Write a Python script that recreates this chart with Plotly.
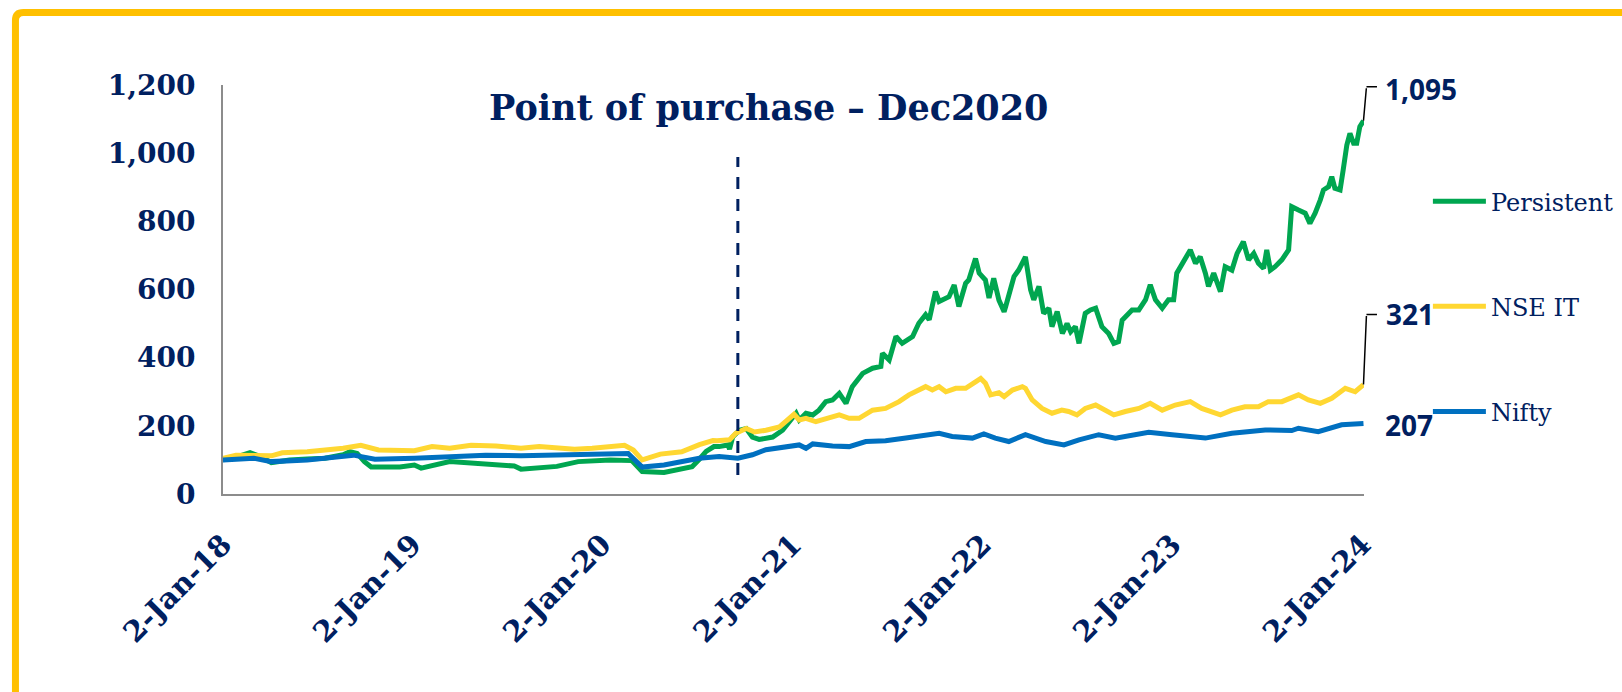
import plotly.graph_objects as go

# ---------------- data ----------------
persistent_dates = [
    "2018-01-02", "2018-01-27", "2018-02-23", "2018-03-15", "2018-04-05", "2018-05-10", "2018-06-13",
    "2018-07-17", "2018-08-21", "2018-09-03", "2018-09-17", "2018-10-01", "2018-10-14", "2018-12-08",
    "2019-01-05", "2019-01-18", "2019-03-14", "2019-04-24", "2019-05-22", "2019-07-16", "2019-07-29",
    "2019-09-02", "2019-10-06", "2019-11-16", "2020-01-17", "2020-02-27", "2020-03-18", "2020-04-29",
    "2020-06-22", "2020-07-06", "2020-07-19", "2020-08-03", "2020-08-13", "2020-08-30", "2020-09-02",
    "2020-09-08", "2020-09-21", "2020-10-04", "2020-10-16", "2020-10-29", "2020-11-24", "2020-12-13",
    "2020-12-26", "2021-01-08", "2021-01-14", "2021-01-27", "2021-02-09", "2021-02-21", "2021-03-06",
    "2021-03-19", "2021-04-01", "2021-04-14", "2021-04-26", "2021-05-16", "2021-06-04", "2021-06-20",
    "2021-06-23", "2021-07-06", "2021-07-19", "2021-07-31", "2021-08-20", "2021-09-01", "2021-09-14",
    "2021-09-21", "2021-10-03", "2021-10-10", "2021-10-29", "2021-11-08", "2021-11-17", "2021-11-30",
    "2021-12-06", "2021-12-19", "2021-12-26", "2022-01-07", "2022-01-14", "2022-01-23", "2022-02-02",
    "2022-02-12", "2022-02-15", "2022-03-03", "2022-03-12", "2022-03-25", "2022-04-04", "2022-04-10",
    "2022-04-20", "2022-04-29", "2022-05-09", "2022-05-15", "2022-05-25", "2022-06-04", "2022-06-13",
    "2022-06-20", "2022-06-29", "2022-07-06", "2022-07-18", "2022-07-28", "2022-08-07", "2022-08-19",
    "2022-09-01", "2022-09-11", "2022-09-20", "2022-09-27", "2022-10-16", "2022-10-29", "2022-11-11",
    "2022-11-20", "2022-11-30", "2022-12-13", "2022-12-25", "2023-01-04", "2023-01-10", "2023-01-23",
    "2023-02-05", "2023-02-15", "2023-02-24", "2023-03-06", "2023-03-12", "2023-03-22", "2023-04-04",
    "2023-04-13", "2023-04-26", "2023-05-06", "2023-05-18", "2023-05-28", "2023-06-07", "2023-06-16",
    "2023-06-26", "2023-07-02", "2023-07-09", "2023-07-18", "2023-07-31", "2023-08-13", "2023-08-19",
    "2023-09-01", "2023-09-14", "2023-09-23", "2023-10-03", "2023-10-13", "2023-10-19", "2023-10-29",
    "2023-11-04", "2023-11-10", "2023-11-20", "2023-11-26", "2023-12-03", "2023-12-09", "2023-12-16",
    "2023-12-22", "2023-12-28", "2024-01-04",
]
persistent_values = [
    100, 108, 121, 110, 92, 100, 103,
    105, 115, 124, 119, 95, 79, 79,
    85, 76, 95, 90, 90, 82, 73,
    78, 81, 95, 100, 98, 66, 63,
    80, 102, 125, 139, 139, 144, 132,
    167, 187, 192, 167, 160, 167, 187,
    212, 237, 217, 237, 232, 246, 271,
    276, 295, 266, 315, 354, 369, 374,
    413, 393, 462, 442, 462, 501, 526,
    511, 594, 565, 579, 613, 550, 618,
    628, 691, 648, 628, 575, 633, 569,
    535, 550, 638, 657, 696, 599, 570,
    609, 530, 545, 491, 535, 471, 500,
    476, 491, 442, 530, 540, 545, 491,
    471, 442, 447, 510, 540, 540, 570,
    614, 570, 545, 570, 570, 648, 682,
    716, 677, 696, 648, 609, 648, 594,
    667, 657, 706, 740, 687, 706, 677,
    662, 716, 657, 667, 687, 716, 843,
    833, 824, 794, 824, 863, 892, 902,
    931, 897, 892, 951, 1024, 1058, 1029,
    1029, 1078, 1095,
]

nseit_dates = [
    "2018-01-02", "2018-01-27", "2018-04-05", "2018-04-26", "2018-06-13", "2018-08-21", "2018-09-24",
    "2018-10-28", "2019-01-05", "2019-02-08", "2019-03-14", "2019-04-24", "2019-06-11", "2019-07-29",
    "2019-09-02", "2019-11-09", "2019-12-13", "2020-01-17", "2020-02-13", "2020-03-01", "2020-03-18",
    "2020-04-22", "2020-06-02", "2020-07-06", "2020-08-01", "2020-08-09", "2020-09-02", "2020-09-14",
    "2020-10-04", "2020-10-20", "2020-11-11", "2020-12-07", "2020-12-19", "2021-01-04", "2021-01-14",
    "2021-01-27", "2021-02-15", "2021-03-06", "2021-04-01", "2021-04-20", "2021-05-09", "2021-06-04",
    "2021-06-29", "2021-07-25", "2021-08-13", "2021-09-14", "2021-09-27", "2021-10-10", "2021-10-23",
    "2021-11-11", "2021-11-30", "2021-12-19", "2021-12-29", "2022-01-07", "2022-01-17", "2022-02-02",
    "2022-02-12", "2022-02-28", "2022-03-19", "2022-03-25", "2022-04-07", "2022-04-26", "2022-05-15",
    "2022-06-03", "2022-06-16", "2022-07-02", "2022-07-18", "2022-08-07", "2022-08-26", "2022-09-11",
    "2022-10-03", "2022-10-29", "2022-11-20", "2022-12-13", "2023-01-07", "2023-02-05", "2023-02-27",
    "2023-03-18", "2023-04-04", "2023-04-26", "2023-05-21", "2023-06-16", "2023-07-05", "2023-07-31",
    "2023-09-01", "2023-09-20", "2023-10-13", "2023-11-04", "2023-11-30", "2023-12-19", "2024-01-04",
]
nseit_values = [
    105, 114, 112, 121, 124, 134, 143,
    129, 127, 139, 134, 143, 141, 134,
    139, 131, 134, 141, 143, 129, 100,
    117, 124, 145, 157, 156, 159, 178,
    192, 182, 187, 197, 212, 234, 217,
    222, 212, 222, 232, 222, 222, 246,
    251, 271, 291, 315, 305, 315, 300,
    310, 310, 329, 339, 325, 291, 297,
    286, 305, 315, 310, 276, 251, 237,
    246, 242, 232, 251, 261, 246, 232,
    242, 251, 266, 246, 261, 271, 251,
    242, 232, 246, 256, 256, 271, 271,
    291, 276, 266, 281, 310, 300, 321,
]

nifty_dates = [
    "2018-01-02", "2018-03-02", "2018-04-05", "2018-06-13", "2018-09-10", "2018-10-21", "2019-01-05",
    "2019-03-14", "2019-05-22", "2019-07-29", "2019-10-06", "2019-12-13", "2020-02-20", "2020-03-18",
    "2020-04-29", "2020-07-06", "2020-08-13", "2020-09-18", "2020-10-16", "2020-11-11", "2020-12-19",
    "2021-01-14", "2021-01-27", "2021-02-09", "2021-03-19", "2021-04-20", "2021-05-22", "2021-06-29",
    "2021-08-07", "2021-09-14", "2021-10-10", "2021-11-04", "2021-12-13", "2022-01-04", "2022-01-26",
    "2022-02-21", "2022-03-25", "2022-05-03", "2022-06-07", "2022-07-06", "2022-08-13", "2022-09-14",
    "2022-11-17", "2023-01-01", "2023-03-06", "2023-04-26", "2023-06-29", "2023-08-19", "2023-09-01",
    "2023-10-09", "2023-11-23", "2024-01-04",
]
nifty_values = [
    100, 105, 95, 100, 114, 102, 105,
    108, 114, 112, 114, 119, 119, 79,
    85, 105, 110, 105, 115, 130, 139,
    144, 134, 147, 141, 139, 154, 156,
    164, 171, 178, 169, 164, 176, 164,
    154, 174, 154, 144, 159, 174, 164,
    181, 174, 164, 178, 188, 186, 193,
    183, 203, 207,
]

series_names = ["Persistent", "NSE IT", "Nifty"]
series_colors = ["#00A650", "#FFD732", "#0070C0"]

tick_dates = ["2018-01-02", "2019-01-02", "2020-01-02", "2021-01-02", "2022-01-02", "2023-01-02", "2024-01-02"]
tick_labels = ["2-Jan-18", "2-Jan-19", "2-Jan-20", "2-Jan-21", "2-Jan-22", "2-Jan-23", "2-Jan-24"]
y_ticks = [0, 200, 400, 600, 800, 1000, 1200]

purchase_date = "2020-09-18"
purchase_span = [56, 989]
title_text = "Point of purchase \u2013 Dec2020"

NAVY = "#002060"
SERIF = "Georgia, 'DejaVu Serif', serif"
SANS = "'Open Sans', 'Liberation Sans', sans-serif"

# ---------------- figure ----------------
fig = go.Figure()
all_x = [persistent_dates, nseit_dates, nifty_dates]
all_y = [persistent_values, nseit_values, nifty_values]
for nm, col, xs, ys in zip(series_names, series_colors, all_x, all_y):
    fig.add_trace(go.Scatter(
        x=xs, y=ys, mode="lines", name=nm, legendgroup=nm,
        line=dict(color=col, width=5),
        hoverinfo="x+y+name",
    ))

# purchase marker line
fig.add_shape(type="line", xref="x", yref="y",
              x0=purchase_date, x1=purchase_date, y0=purchase_span[0], y1=purchase_span[1],
              line=dict(color=NAVY, width=3, dash="12px,10px"))

# end-value labels with elbow leader lines (pixel offsets)
label_offsets = {  # (xshift, yshift, leader rise in px or None)
    "Persistent": (20, 32, 34),
    "NSE IT": (21, 71, 70),
    "Nifty": (20, -2, None),
}
for nm, xs, ys in zip(series_names, all_x, all_y):
    xs_last, ys_last = xs[-1], ys[-1]
    dx, dy, rise = label_offsets[nm]
    fig.add_annotation(x=xs_last, y=ys_last, xref="x", yref="y",
                       text=f"<b>{ys_last:,}</b>", showarrow=False,
                       xanchor="left", yanchor="middle", xshift=dx, yshift=dy,
                       font=dict(family=SANS, size=28, color=NAVY))
    if rise:
        fig.add_annotation(x=xs_last, y=ys_last, xref="x", yref="y", text="",
                           showarrow=True, arrowhead=0, arrowwidth=1.5, arrowcolor="black",
                           ax=3, ay=-rise, standoff=0, startstandoff=0,
                           font=dict(size=1))
        fig.add_annotation(x=xs_last, y=ys_last, xref="x", yref="y", text="",
                           showarrow=True, arrowhead=0, arrowwidth=1.5, arrowcolor="black",
                           ax=12, ay=0, xshift=3, yshift=rise, standoff=0, startstandoff=0,
                           font=dict(size=1))

# title inside plot
fig.add_annotation(x=0.478, y=0.946, xref="paper", yref="paper", showarrow=False,
                   text=f"<b>{title_text}</b>", xanchor="center", yanchor="middle",
                   font=dict(family=SERIF, size=35, color=NAVY))

# outer yellow frame (cropped on the right and bottom)
fig.add_shape(type="path", xref="paper", yref="paper",
              path="M -0.1819,-0.7 L -0.1819,1.1577 Q -0.1819,1.1773 -0.1749,1.1773 L 1.35,1.1773",
              line=dict(color="#FFC000", width=7))

fig.update_layout(
    width=1622, height=692,
    margin=dict(l=223, r=258, t=85, b=198, autoexpand=False),
    paper_bgcolor="white", plot_bgcolor="white",
    showlegend=True,
    legend=dict(x=1.056, y=0.77, xanchor="left", yanchor="top",
                font=dict(family=SERIF, size=24, color=NAVY),
                tracegroupgap=71, itemwidth=53, bgcolor="rgba(0,0,0,0)"),
    xaxis=dict(type="date", range=["2018-01-02", "2024-01-05"], automargin=False,
               tickvals=tick_dates, ticktext=tick_labels, tickangle=-45,
               tickfont=dict(family=SERIF, size=29, color=NAVY, weight="bold"),
               showgrid=False, zeroline=False, showline=True,
               linecolor="#8c8c8c", linewidth=2, ticks="", ticklabelstandoff=20),
    yaxis=dict(range=[0, 1200], tickvals=y_ticks, tickformat=",d", automargin=False,
               tickfont=dict(family=SERIF, size=28, color=NAVY, weight="bold"),
               showgrid=False, zeroline=False, showline=True,
               linecolor="#8c8c8c", linewidth=2, ticks="", ticklabelstandoff=20),
)

fig.write_html("out.html", config={"displayModeBar": False},
               post_script="document.body.style.margin='0';")
